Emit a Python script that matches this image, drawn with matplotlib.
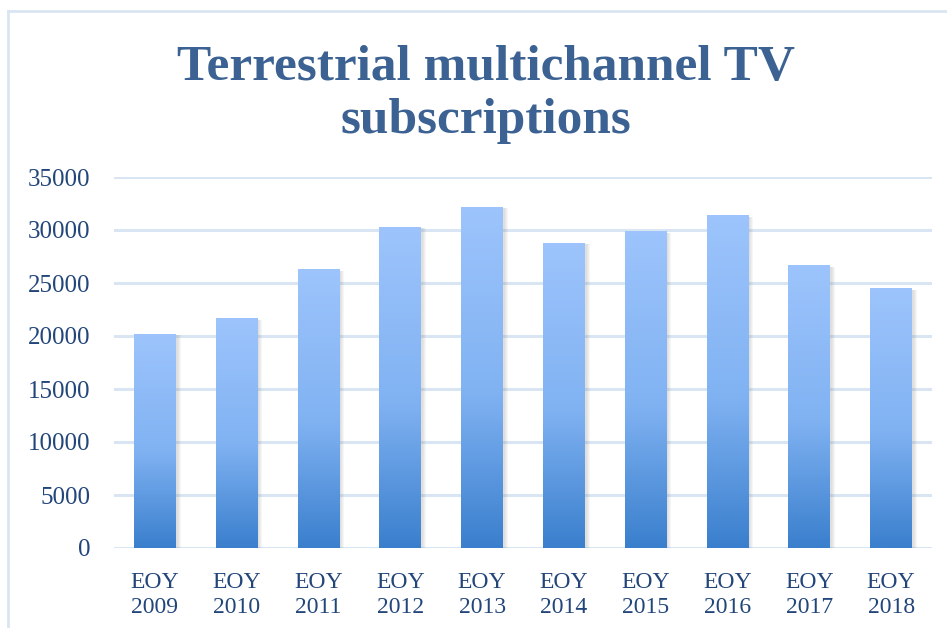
import numpy as np
import matplotlib.pyplot as plt
from matplotlib.colors import LinearSegmentedColormap
from matplotlib.patches import Rectangle
from matplotlib.lines import Line2D

years = ['2009', '2010', '2011', '2012', '2013', '2014', '2015', '2016', '2017', '2018']
subscriptions = [20200, 21700, 26300, 30300, 32200, 28800, 29900, 31400, 26700, 24500]
labels = ['EOY\n' + y for y in years]

plt.rcParams['font.family'] = ['Liberation Serif', 'DejaVu Serif']

fig = plt.figure(figsize=(9.47, 6.28), dpi=100)
ax = fig.add_axes([114 / 947, 80 / 628, 818 / 947, 371 / 628])

# light blue frame of the chart area
frame_col = '#dae5f3'
fig.add_artist(Line2D([8 / 947, 8 / 947], [0, 1 - 11 / 628], color=frame_col, lw=2))
fig.add_artist(Line2D([8 / 947, 1], [1 - 11 / 628, 1 - 11 / 628], color=frame_col, lw=2))

x = np.arange(len(years))
width = 0.51

cmap = LinearSegmentedColormap.from_list('bars', [(0, '#3a7fcd'), (0.45, '#80b2f2'), (1, '#9dc4fc')])
grad = np.linspace(0, 1, 256).reshape(-1, 1)

# soft shadows
for xi, v in zip(x, subscriptions):
    for k in range(4):
        off = 0.012 * (k + 1)
        ax.add_patch(Rectangle((xi - width / 2 + 0.01, -250 - 60 * k), width + off, v + 100 + 60 * k,
                               facecolor='#606060', alpha=0.05, edgecolor='none', zorder=2))

bars = ax.bar(x, subscriptions, width, color='none', zorder=3)
for b in bars:
    x0, y0 = b.get_x(), b.get_y()
    w, h = b.get_width(), b.get_height()
    im = ax.imshow(grad, cmap=cmap, aspect='auto', origin='lower',
                   extent=[x0, x0 + w, y0, y0 + h], zorder=3)
    im.set_clip_path(b)

ax.set_xlim(-0.5, len(years) - 0.5)
ax.set_ylim(0, 35000)
ax.set_yticks(range(0, 35001, 5000))
ax.set_xticks(x)
ax.set_xticklabels(labels, linespacing=1.25)
ax.grid(axis='y', color=frame_col, lw=2.2, zorder=0)
ax.set_axisbelow(True)
for s in ax.spines.values():
    s.set_visible(False)
ax.tick_params(length=0, labelsize=17, labelcolor='#23467a')
ax.tick_params(axis='y', labelsize=18, pad=17)
ax.tick_params(axis='x', pad=17)

fig.text(0.513, 0.85, 'Terrestrial multichannel TV\nsubscriptions', ha='center', va='center',
         fontsize=37, fontweight='bold', color='#3b6293', linespacing=1.2)

fig.savefig('out.png', dpi=100, facecolor='white')
